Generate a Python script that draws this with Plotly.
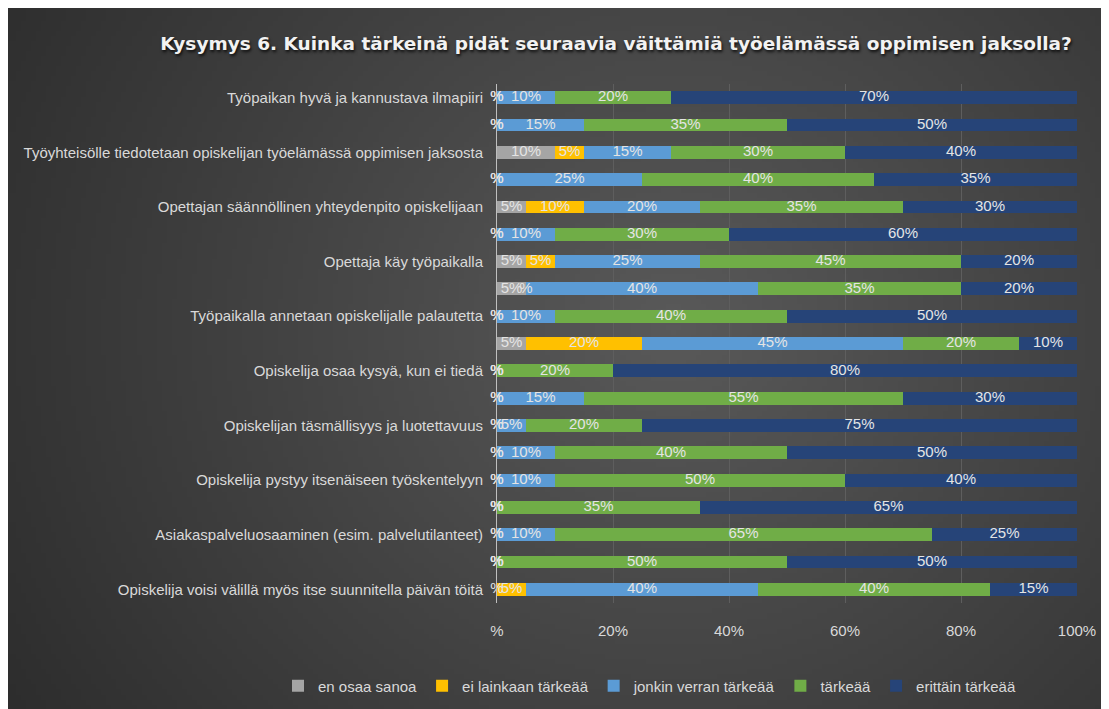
import base64
import struct
import zlib

import plotly.graph_objects as go

# ---------------- data ----------------
categories = [
    "Työpaikan hyvä ja kannustava ilmapiiri", "",
    "Työyhteisölle tiedotetaan opiskelijan työelämässä oppimisen jaksosta", "",
    "Opettajan säännöllinen yhteydenpito opiskelijaan", "",
    "Opettaja käy työpaikalla", "",
    "Työpaikalla annetaan opiskelijalle palautetta", "",
    "Opiskelija osaa kysyä, kun ei tiedä", "",
    "Opiskelijan täsmällisyys ja luotettavuus", "",
    "Opiskelija pystyy itsenäiseen työskentelyyn", "",
    "Asiakaspalveluosaaminen (esim. palvelutilanteet)", "",
    "Opiskelija voisi välillä myös itse suunnitella päivän töitä",
]
en_osaa_sanoa = [0, 0, 10, 0, 5, 0, 5, 5, 0, 5, 0, 0, 0, 0, 0, 0, 0, 0, 0]
ei_lainkaan_tarkeaa = [0, 0, 5, 0, 10, 0, 5, 0, 0, 20, 0, 0, 0, 0, 0, 0, 0, 0, 5]
jonkin_verran_tarkeaa = [10, 15, 15, 25, 20, 10, 25, 40, 10, 45, 0, 15, 5, 10, 10, 0, 10, 0, 40]
tarkeaa = [20, 35, 30, 40, 35, 30, 45, 35, 40, 20, 20, 55, 20, 40, 50, 35, 65, 50, 40]
erittain_tarkeaa = [70, 50, 40, 35, 30, 60, 20, 20, 50, 10, 80, 30, 75, 50, 40, 65, 25, 50, 15]

series_names = ["en osaa sanoa", "ei lainkaan tärkeää", "jonkin verran tärkeää", "tärkeää", "erittäin tärkeää"]
series_values = [en_osaa_sanoa, ei_lainkaan_tarkeaa, jonkin_verran_tarkeaa, tarkeaa, erittain_tarkeaa]
series_colors = ["#a5a5a5", "#ffc000", "#5b9bd5", "#70ad47", "#264478"]

x_tickvals = [0, 20, 40, 60, 80, 100]
x_ticktext = ["%", "20%", "40%", "60%", "80%", "100%"]

title_text = "Kysymys 6. Kuinka tärkeinä pidät seuraavia väittämiä työelämässä oppimisen jaksolla?"

# ---------------- layout geometry ----------------
W, H = 1109, 709
ML, MR, MT, MB = 489, 40, 76, 114
PW, PH = W - ML - MR, H - MT - MB

LABEL_FONT = "Liberation Sans Narrow, Liberation Sans, Arial, sans-serif"
TEXT_COLOR = "#d9d9d9"


# ---------------- background gradient image ----------------
def png_bytes(w, h, rows):
    raw = b"".join(b"\x00" + bytes(r) for r in rows)

    def chunk(t, d):
        return struct.pack(">I", len(d)) + t + d + struct.pack(">I", zlib.crc32(t + d) & 0xFFFFFFFF)

    return (b"\x89PNG\r\n\x1a\n" + chunk(b"IHDR", struct.pack(">IIBBBBB", w, h, 8, 2, 0, 0, 0))
            + chunk(b"IDAT", zlib.compress(raw, 9)) + chunk(b"IEND", b""))


gw, gh = 220, 140
rows = []
for j in range(gh):
    row = []
    v = j / (gh - 1)
    for i in range(gw):
        u = i / (gw - 1)
        d = ((u - 0.6) / 0.75) ** 2 + ((v - 0.45) / 1.1) ** 2
        d = min(1.0, d ** 0.5)
        c = int(round(0x59 + (0x2a - 0x59) * d))
        row += [c, c, c]
    rows.append(row)
bg_uri = "data:image/png;base64," + base64.b64encode(png_bytes(gw, gh, rows)).decode()

fig = go.Figure()

y_idx = list(range(len(categories)))

for name, vals, col in zip(series_names, series_values, series_colors):
    fig.add_trace(go.Bar(
        y=y_idx, x=vals, name=name, orientation="h",
        marker=dict(color=col, line=dict(width=0)),
        textposition="none", hoverinfo="x+name",
    ))

# data labels at segment centres (zero segments show just "%", as in the original)
lx, ly, lt = [], [], []
for r in range(len(categories)):
    cum = 0
    for vals in series_values:
        v = vals[r]
        lx.append(cum + v / 2)
        ly.append(r)
        lt.append(f"{v}%" if v else "%")
        cum += v
fig.add_trace(go.Scatter(
    x=lx, y=ly, text=lt, mode="text", showlegend=False, hoverinfo="skip",
    textfont=dict(family=LABEL_FONT, size=15, color="#e4e4e4"), cliponaxis=False,
))

n = len(categories)
fig.update_layout(
    width=W, height=H,
    margin=dict(l=ML, r=MR, t=MT, b=MB, autoexpand=False),
    paper_bgcolor="#2e2e2e",
    plot_bgcolor="rgba(0,0,0,0)",
    barmode="stack",
    bargap=0.53,
    title=dict(
        text=title_text, x=608 / W, xref="container", xanchor="center",
        y=1 - 36 / H, yref="container", yanchor="middle",
        font=dict(family="DejaVu Sans, sans-serif", size=18.5, color="#f2f2f2", weight="bold",
                  shadow="1px 2px 3px rgba(0,0,0,0.8)"),
    ),
    xaxis=dict(
        range=[0, 100], tickvals=x_tickvals, ticktext=x_ticktext,
        showgrid=True, gridcolor="#5e5e5e", gridwidth=1, zeroline=False,
        showline=False, ticks="", ticklabelstandoff=17,
        tickfont=dict(family=LABEL_FONT, size=15, color=TEXT_COLOR),
        fixedrange=True,
    ),
    yaxis=dict(
        tickmode="array", tickvals=y_idx, ticktext=categories,
        range=[n - 0.5, -0.5],
        showgrid=False, zeroline=False, showline=True, linecolor="#bfbfbf", linewidth=1,
        ticks="", ticklabelstandoff=10,
        tickfont=dict(family=LABEL_FONT, size=15, color=TEXT_COLOR),
        fixedrange=True,
    ),
    legend=dict(
        orientation="h", xref="paper", x=(270 - ML) / PW, xanchor="left",
        yref="paper", y=-(678 - (H - MB)) / PH, yanchor="middle",
        font=dict(family=LABEL_FONT, size=15, color=TEXT_COLOR),
        bgcolor="rgba(0,0,0,0)", itemwidth=30, traceorder="normal",
    ),
    images=[dict(
        source=bg_uri, xref="paper", yref="paper",
        x=-ML / PW, y=(H - MB) / PH,
        sizex=W / PW, sizey=H / PH,
        sizing="stretch", xanchor="left", yanchor="top", layer="below",
    )],
    showlegend=True,
)

fig.write_html("out.html")
